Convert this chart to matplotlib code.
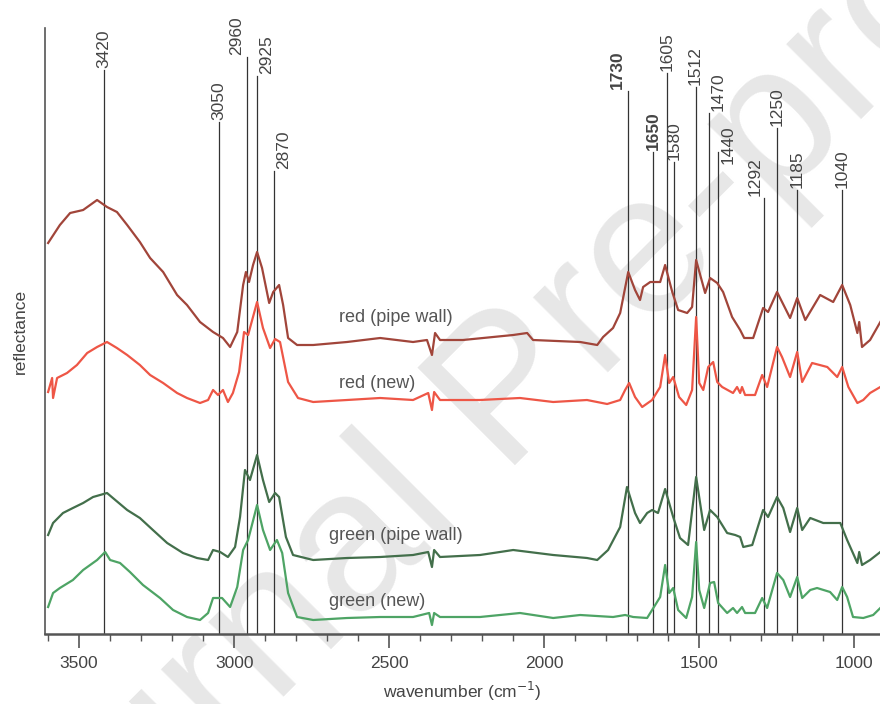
import matplotlib
matplotlib.use("Agg")
import matplotlib.pyplot as plt
from matplotlib.ticker import MultipleLocator

plt.rcParams['font.family'] = ['Liberation Sans', 'DejaVu Sans']

# spectra, wavenumber (cm-1) and reflectance (offset, arbitrary units)
wn_red_wall = [3600, 3562, 3529, 3487, 3442, 3410, 3378, 3345, 3304, 3271, 3229, 3184, 3152, 3110, 3068, 3036,
               3013, 2990, 2971, 2962, 2952, 2939, 2926, 2910, 2887, 2874, 2855, 2842, 2826, 2797, 2745, 2636,
               2529, 2423, 2378, 2362, 2352, 2336, 2262, 2100, 2055, 2036, 1884, 1829, 1810, 1778, 1755, 1729,
               1707, 1691, 1681, 1658, 1626, 1610, 1587, 1568, 1539, 1523, 1510, 1481, 1465, 1442, 1423, 1394,
               1368, 1355, 1326, 1294, 1278, 1249, 1207, 1184, 1158, 1133, 1110, 1068, 1039, 1013, 990, 984,
               975, 949, 916]
r_red_wall = [3.91, 4.09, 4.21, 4.24, 4.34, 4.27, 4.22, 4.09, 3.92, 3.76, 3.62, 3.39, 3.29, 3.12, 3.02, 2.96,
              2.87, 3.02, 3.49, 3.62, 3.52, 3.69, 3.82, 3.66, 3.31, 3.42, 3.49, 3.29, 2.96, 2.89, 2.89, 2.92,
              2.96, 2.92, 2.94, 2.79, 3.01, 2.94, 2.94, 2.99, 3.01, 2.94, 2.92, 2.89, 2.97, 3.06, 3.21, 3.62,
              3.44, 3.34, 3.47, 3.52, 3.52, 3.69, 3.42, 3.24, 3.21, 3.27, 3.74, 3.41, 3.56, 3.51, 3.42, 3.17,
              3.04, 2.96, 2.96, 3.26, 3.22, 3.42, 3.16, 3.36, 3.14, 3.27, 3.39, 3.32, 3.49, 3.29, 3.01, 3.12,
              2.87, 2.94, 3.12]

wn_red_new = [3600, 3587, 3584, 3571, 3539, 3507, 3474, 3442, 3410, 3378, 3345, 3304, 3271, 3229, 3184, 3152,
              3110, 3084, 3068, 3052, 3036, 3020, 3004, 2984, 2968, 2955, 2926, 2907, 2884, 2868, 2852, 2826,
              2794, 2745, 2636, 2529, 2423, 2374, 2362, 2355, 2336, 2207, 2078, 1971, 1862, 1797, 1755, 1739,
              1726, 1707, 1684, 1652, 1626, 1610, 1597, 1584, 1565, 1542, 1523, 1510, 1500, 1487, 1471, 1455,
              1442, 1426, 1391, 1378, 1368, 1362, 1352, 1320, 1297, 1281, 1249, 1233, 1207, 1184, 1168, 1136,
              1087, 1055, 1039, 1019, 990, 971, 949, 916]
r_red_new = [2.42, 2.56, 2.36, 2.56, 2.61, 2.69, 2.81, 2.87, 2.92, 2.86, 2.79, 2.69, 2.59, 2.51, 2.41, 2.36,
             2.31, 2.34, 2.44, 2.39, 2.44, 2.32, 2.41, 2.62, 3.02, 2.99, 3.32, 3.06, 2.86, 2.95, 2.92, 2.52,
             2.36, 2.32, 2.34, 2.36, 2.34, 2.41, 2.24, 2.42, 2.34, 2.34, 2.36, 2.32, 2.34, 2.30, 2.34, 2.44,
             2.51, 2.37, 2.27, 2.34, 2.47, 2.79, 2.51, 2.57, 2.37, 2.29, 2.44, 3.17, 2.51, 2.44, 2.67, 2.72,
             2.52, 2.47, 2.41, 2.47, 2.41, 2.47, 2.39, 2.39, 2.59, 2.47, 2.87, 2.77, 2.57, 2.82, 2.52, 2.71,
             2.67, 2.57, 2.67, 2.47, 2.31, 2.34, 2.41, 2.47]

wn_green_wall = [3600, 3584, 3552, 3520, 3487, 3455, 3410, 3391, 3345, 3304, 3262, 3216, 3165, 3120, 3084, 3068,
                 3045, 3020, 2997, 2981, 2965, 2949, 2926, 2907, 2887, 2868, 2855, 2833, 2810, 2745, 2636, 2529,
                 2423, 2374, 2362, 2355, 2336, 2207, 2100, 1971, 1862, 1829, 1794, 1755, 1733, 1707, 1691, 1668,
                 1652, 1633, 1610, 1584, 1562, 1536, 1510, 1484, 1465, 1442, 1410, 1384, 1368, 1358, 1329, 1294,
                 1278, 1249, 1229, 1207, 1184, 1168, 1142, 1100, 1045, 1023, 990, 984, 975, 949, 916]
r_green_wall = [0.99, 1.11, 1.21, 1.26, 1.31, 1.37, 1.41, 1.36, 1.24, 1.16, 1.04, 0.91, 0.81, 0.76, 0.74, 0.84,
                0.82, 0.77, 0.87, 1.17, 1.64, 1.54, 1.79, 1.54, 1.32, 1.41, 1.37, 0.97, 0.79, 0.74, 0.76, 0.77,
                0.79, 0.82, 0.67, 0.84, 0.77, 0.79, 0.84, 0.79, 0.76, 0.74, 0.84, 1.07, 1.47, 1.21, 1.11, 1.21,
                1.24, 1.21, 1.45, 1.17, 0.96, 0.89, 1.57, 1.04, 1.24, 1.17, 1.01, 0.99, 0.97, 0.87, 0.89, 1.24,
                1.17, 1.37, 1.26, 1.02, 1.26, 1.04, 1.16, 1.11, 1.11, 0.94, 0.71, 0.82, 0.69, 0.74, 0.82]

wn_green_new = [3600, 3584, 3562, 3520, 3487, 3442, 3416, 3400, 3368, 3336, 3294, 3239, 3197, 3152, 3110, 3084,
                3068, 3039, 3013, 2990, 2971, 2955, 2926, 2907, 2884, 2862, 2845, 2826, 2797, 2745, 2636, 2529,
                2423, 2371, 2362, 2355, 2336, 2207, 2078, 1971, 1884, 1778, 1739, 1713, 1668, 1652, 1626, 1610,
                1597, 1584, 1568, 1542, 1523, 1510, 1500, 1484, 1465, 1452, 1439, 1410, 1391, 1378, 1362, 1352,
                1320, 1297, 1281, 1249, 1229, 1207, 1184, 1168, 1142, 1120, 1078, 1055, 1039, 1023, 1004, 971,
                939, 916]
r_green_new = [0.27, 0.41, 0.46, 0.54, 0.64, 0.74, 0.82, 0.74, 0.71, 0.62, 0.49, 0.36, 0.24, 0.17, 0.14, 0.21,
               0.36, 0.36, 0.27, 0.47, 0.84, 0.94, 1.29, 1.04, 0.84, 0.94, 0.81, 0.41, 0.17, 0.14, 0.16, 0.17,
               0.17, 0.21, 0.09, 0.21, 0.17, 0.17, 0.21, 0.16, 0.19, 0.17, 0.19, 0.17, 0.16, 0.24, 0.37, 0.69,
               0.41, 0.46, 0.24, 0.16, 0.37, 0.92, 0.44, 0.26, 0.51, 0.52, 0.31, 0.21, 0.26, 0.21, 0.27, 0.21,
               0.21, 0.36, 0.26, 0.61, 0.54, 0.37, 0.57, 0.36, 0.44, 0.46, 0.42, 0.34, 0.47, 0.37, 0.17, 0.16,
               0.19, 0.26]

series_names = ["red (pipe wall)", "red (new)", "green (pipe wall)", "green (new)"]

# marked bands
peaks = [3420, 3050, 2960, 2925, 2870, 1730, 1650, 1605, 1580, 1512, 1470, 1440, 1292, 1250, 1185, 1040]
bold_peaks = [1730, 1650]

# layout
colors = ["#a1453a", "#ee5646", "#436f4b", "#4ea465"]
line_top = [5.64, 5.12, 5.77, 5.58, 4.63, 5.43, 4.82, 5.61, 4.72, 5.47, 5.21, 4.82, 4.36, 5.06, 4.44, 4.44]
label_dx = [0, 0, -10, 9, 9, -11, 1, 0, 0, 0, 10, 10, -9, 0, 0, 0]
label_dy = [2, 2, 2, 2, 2, 2, 2, 2, 2, 2, 2, -12, 2, 2, 2, 2]
name_pos = [(2662, 3.17), (2662, 2.51), (2694, 0.99), (2694, 0.32)]

fig = plt.figure(figsize=(8.8, 7.04), dpi=100)

# watermark, behind the axes
fig.text(0.622, 0.385, "Journal Pre-proof", fontsize=145, color="#e7e7e7", rotation=45,
         ha="center", va="baseline", rotation_mode="anchor", zorder=-5)

ax = fig.add_axes([45 / 880, 70 / 704, 835 / 880, 606 / 704])
ax.patch.set_alpha(0)

for wn, r, c in zip([wn_red_wall, wn_red_new, wn_green_wall, wn_green_new],
                    [r_red_wall, r_red_new, r_green_wall, r_green_new], colors):
    ax.plot(wn, r, color=c, lw=1.6, zorder=3)

for name, (px, py) in zip(series_names, name_pos):
    ax.text(px, py, name, fontsize=13, color="#555555", ha="left", va="center", zorder=4)

for p, top, dx, dy in zip(peaks, line_top, label_dx, label_dy):
    ax.plot([p, p], [0, top], color="#333333", lw=0.9, zorder=2)
    ax.annotate(str(p), (p, top), xytext=(dx * 0.72, dy * 0.72), textcoords="offset points",
                rotation=90, ha="center", va="bottom", fontsize=12.5, color="#444444",
                fontweight="bold" if p in bold_peaks else "normal")

ax.set_xlim(3610, 917)
ax.set_ylim(0, 6.06)
ax.set_yticks([])
ax.xaxis.set_major_locator(MultipleLocator(500))
ax.xaxis.set_minor_locator(MultipleLocator(100))
ax.tick_params(axis="x", which="major", length=10, width=1.2, color="#555555", labelsize=12.5,
               labelcolor="#444444", pad=6)
ax.tick_params(axis="x", which="minor", length=5, width=1.0, color="#555555")
for s in ["top", "right"]:
    ax.spines[s].set_visible(False)
ax.spines["bottom"].set_color("#555555")
ax.spines["bottom"].set_linewidth(1.8)
ax.spines["left"].set_color("#555555")
ax.spines["left"].set_linewidth(1.2)

ax.set_ylabel("reflectance", fontsize=12.5, color="#444444", labelpad=12)
ax.set_xlabel("wavenumber (cm$^{-1}$)", fontsize=12.5, color="#444444", labelpad=6)

fig.savefig("out.png", dpi=100)
